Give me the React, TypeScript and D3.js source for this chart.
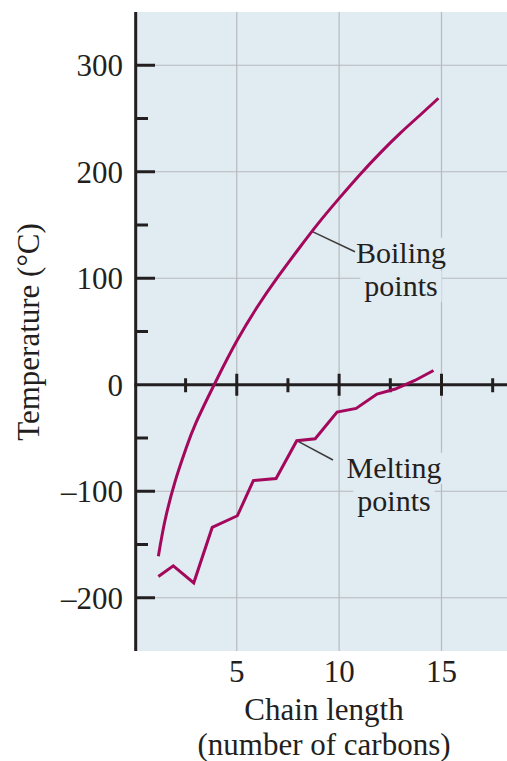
import React, { useEffect, useRef } from 'react';
import * as d3 from 'd3';

// Boiling points of straight-chain alkanes
const boilingX = [1.17, 1.5, 2, 2.5, 3, 4, 5, 6, 7, 8, 9, 10, 11, 12, 13, 14, 14.85];
const boilingY = [-161, -127, -90, -61, -36, 4, 41, 73, 101, 127, 152, 175, 197, 217.5, 236.5, 254, 269];

// Melting points
const meltingX = [1.17, 1.9, 2.9, 3.8, 5.03, 5.81, 6.92, 7.93, 8.83, 9.9, 10.83, 11.85, 12.74, 13.7, 14.61];
const meltingY = [-180, -170, -186, -134, -123, -90, -88, -52.5, -50.7, -25.6, -22.2, -8.7, -4, 4, 13.4];

const xTicks = [5, 10, 15];
const xTickLabels = ['5', '10', '15'];
const xMinorTicks = [2.5, 7.5, 12.5, 17.5];
const yTicks = [300, 200, 100, 0, -100, -200];
const yTickLabels = ['300', '200', '100', '0', '–100', '–200'];
const yMinorTicks = [250, 150, 50, -50, -150];
const yGrid = [300, 200, 100, -100, -200];

const W = 507;
const H = 761;
const BG = '#e1ebf2';
const CURVE = '#a4085c';
const INK = '#231f20';
const GRID = '#b7babe';
const FONT = '"Liberation Serif", "DejaVu Serif", serif';

export default function App() {
  const ref = useRef<SVGSVGElement | null>(null);

  useEffect(() => {
    const svg = d3.select(ref.current);
    svg.selectAll('*').remove();

    const x = d3.scaleLinear().domain([0, 18.2]).range([134.4, 507]);
    const y = d3.scaleLinear().domain([-250, 350]).range([651, 12]);

    // plot background
    svg.append('rect')
      .attr('x', x(0)).attr('y', y(350))
      .attr('width', x(18.2) - x(0)).attr('height', y(-250) - y(350))
      .attr('fill', BG);

    // grid
    const g = svg.append('g');
    g.selectAll('line.hg').data(yGrid).enter().append('line')
      .attr('x1', x(0)).attr('x2', x(18.2))
      .attr('y1', d => y(d)).attr('y2', d => y(d))
      .attr('stroke', GRID).attr('stroke-width', 1.2);
    g.selectAll('line.vg').data(xTicks).enter().append('line')
      .attr('x1', d => x(d)).attr('x2', d => x(d))
      .attr('y1', y(350)).attr('y2', y(-250))
      .attr('stroke', GRID).attr('stroke-width', 1.2);

    // labels with background boxes
    const labels = [
      { lines: ['Boiling', 'points'], cx: 401, y0: 262.7 },
      { lines: ['Melting', 'points'], cx: 394, y0: 477.7 },
    ];
    const labelG = svg.append('g');
    labels.forEach(lb => {
      lb.lines.forEach((t, i) => {
        const txt = labelG.append('text')
          .attr('x', lb.cx).attr('y', lb.y0 + i * 33)
          .attr('text-anchor', 'middle')
          .attr('font-family', FONT).attr('font-size', 30)
          .attr('fill', INK).text(t);
        const bb = (txt.node() as SVGTextElement).getBBox();
        labelG.insert('rect', 'text')
          .attr('x', bb.x - 4).attr('y', bb.y + 2)
          .attr('width', bb.width + 8).attr('height', bb.height - 2)
          .attr('fill', BG);
      });
    });

    // leader lines
    svg.append('line')
      .attr('x1', x(8.67)).attr('y1', y(144))
      .attr('x2', 355).attr('y2', 251.7)
      .attr('stroke', '#3b3b3b').attr('stroke-width', 1.5);
    svg.append('line')
      .attr('x1', x(meltingX[7])).attr('y1', y(meltingY[7]))
      .attr('x2', 333).attr('y2', 460)
      .attr('stroke', '#3b3b3b').attr('stroke-width', 1.5);

    // y axis
    svg.append('line')
      .attr('x1', 135.7).attr('x2', 135.7)
      .attr('y1', y(350)).attr('y2', y(-250))
      .attr('stroke', INK).attr('stroke-width', 3);
    svg.selectAll('line.yt').data(yTicks.filter(d => d !== 0)).enter().append('line')
      .attr('x1', 135).attr('x2', 155)
      .attr('y1', d => y(d)).attr('y2', d => y(d))
      .attr('stroke', INK).attr('stroke-width', 3);
    svg.selectAll('line.ymt').data(yMinorTicks).enter().append('line')
      .attr('x1', 135).attr('x2', 148)
      .attr('y1', d => y(d)).attr('y2', d => y(d))
      .attr('stroke', INK).attr('stroke-width', 3);
    svg.selectAll('text.yl').data(yTicks).enter().append('text')
      .attr('x', 123).attr('y', d => y(d)).attr('dy', '0.35em')
      .attr('text-anchor', 'end')
      .attr('font-family', FONT).attr('font-size', 31).attr('fill', INK)
      .text((d, i) => yTickLabels[i]);

    // x axis at zero
    svg.append('line')
      .attr('x1', x(0)).attr('x2', x(18.2))
      .attr('y1', y(0)).attr('y2', y(0))
      .attr('stroke', INK).attr('stroke-width', 3.2);
    svg.selectAll('line.xt').data(xTicks).enter().append('line')
      .attr('x1', d => x(d)).attr('x2', d => x(d))
      .attr('y1', y(0) - 11).attr('y2', y(0) + 11)
      .attr('stroke', INK).attr('stroke-width', 3);
    svg.selectAll('line.xmt').data(xMinorTicks).enter().append('line')
      .attr('x1', d => x(d)).attr('x2', d => x(d))
      .attr('y1', y(0) - 6.5).attr('y2', y(0) + 7.5)
      .attr('stroke', INK).attr('stroke-width', 3);
    svg.selectAll('text.xl').data(xTicks).enter().append('text')
      .attr('x', d => x(d)).attr('y', 682)
      .attr('text-anchor', 'middle')
      .attr('font-family', FONT).attr('font-size', 31).attr('fill', INK)
      .text((d, i) => xTickLabels[i]);

    // curves
    const boil = boilingX.map((v, i) => [v, boilingY[i]] as [number, number]);
    const melt = meltingX.map((v, i) => [v, meltingY[i]] as [number, number]);
    const lineSmooth = d3.line<[number, number]>()
      .x(d => x(d[0])).y(d => y(d[1])).curve(d3.curveNatural);
    const lineStraight = d3.line<[number, number]>()
      .x(d => x(d[0])).y(d => y(d[1]));
    svg.append('path').attr('d', lineSmooth(boil) || '')
      .attr('fill', 'none').attr('stroke', CURVE).attr('stroke-width', 3);
    svg.append('path').attr('d', lineStraight(melt) || '')
      .attr('fill', 'none').attr('stroke', CURVE).attr('stroke-width', 3)
      .attr('stroke-linejoin', 'miter');

    // axis titles
    svg.append('text')
      .attr('transform', `translate(39,332) rotate(-90)`)
      .attr('text-anchor', 'middle')
      .attr('font-family', FONT).attr('font-size', 31).attr('fill', INK)
      .text('Temperature (°C)');
    svg.append('text')
      .attr('x', 324).attr('y', 720)
      .attr('text-anchor', 'middle')
      .attr('font-family', FONT).attr('font-size', 31).attr('fill', INK)
      .text('Chain length');
    svg.append('text')
      .attr('x', 324).attr('y', 755)
      .attr('text-anchor', 'middle')
      .attr('font-family', FONT).attr('font-size', 31).attr('fill', INK)
      .text('(number of carbons)');
  }, []);

  return (
    <svg
      ref={ref}
      width={W}
      height={H}
      style={{ position: 'absolute', left: 0, top: 0, display: 'block', background: '#ffffff' }}
    />
  );
}
